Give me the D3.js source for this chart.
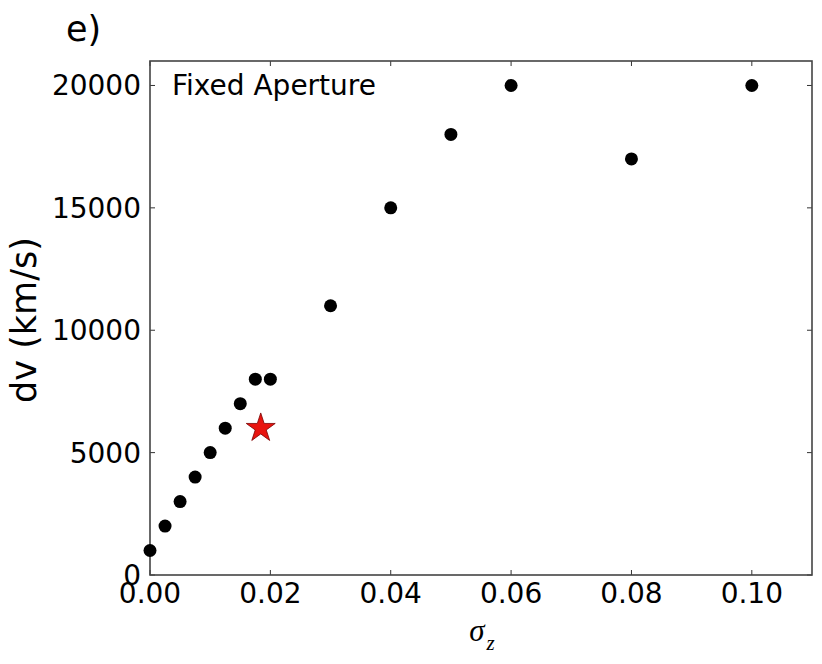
<!DOCTYPE html>
<html><head><meta charset="utf-8">
<script src="https://cdn.jsdelivr.net/npm/d3@7"></script>
<style>body{margin:0;background:#fff}</style>
</head><body>
<svg id="c" width="822" height="664"></svg>
<script>
const sigmaZ = [0, 0.0025, 0.005, 0.0075, 0.01, 0.0125, 0.015, 0.0175, 0.02, 0.03, 0.04, 0.05, 0.06, 0.08, 0.10];
const dv = [1000, 2000, 3000, 4000, 5000, 6000, 7000, 8000, 8000, 11000, 15000, 18000, 20000, 17000, 20000];
const starX = [0.0184];
const starY = [6000];
const xTicks = [0, 0.02, 0.04, 0.06, 0.08, 0.10];
const yTicks = [0, 5000, 10000, 15000, 20000];

const svg = d3.select("#c");
const L = 150, R = 812, T = 61, B = 575;
const x = d3.scaleLinear().domain([0, 0.11]).range([L, R]);
const y = d3.scaleLinear().domain([0, 21000]).range([B, T]);
const font = "DejaVu Sans, sans-serif";

// ticks (inward, all sides)
const tl = 5;
const g = svg.append("g");
xTicks.forEach(v => {
  g.append("line").attr("x1", x(v)).attr("x2", x(v)).attr("y1", B).attr("y2", B - tl).attr("stroke", "#333");
  g.append("line").attr("x1", x(v)).attr("x2", x(v)).attr("y1", T).attr("y2", T + tl).attr("stroke", "#333");
  svg.append("text").attr("x", x(v)).attr("y", B + 28).attr("text-anchor", "middle")
    .attr("font-family", font).attr("font-size", 28).text(d3.format(".2f")(v));
});
yTicks.forEach(v => {
  g.append("line").attr("y1", y(v)).attr("y2", y(v)).attr("x1", L).attr("x2", L + tl).attr("stroke", "#333");
  g.append("line").attr("y1", y(v)).attr("y2", y(v)).attr("x1", R).attr("x2", R - tl).attr("stroke", "#333");
  svg.append("text").attr("x", L - 9).attr("y", y(v) + 10).attr("text-anchor", "end")
    .attr("font-family", font).attr("font-size", 28).text(v);
});

// frame
svg.append("rect").attr("x", L).attr("y", T).attr("width", R - L).attr("height", B - T)
  .attr("fill", "none").attr("stroke", "#444").attr("stroke-width", 1.6);

// points
svg.append("g").selectAll("circle").data(sigmaZ.map((s, i) => [s, dv[i]])).join("circle")
  .attr("cx", d => x(d[0])).attr("cy", d => y(d[1])).attr("r", 6.5).attr("fill", "#000");

// star
const star = d3.symbol().type(d3.symbolStar).size(260);
svg.append("g").selectAll("path").data(starX.map((s, i) => [s, starY[i]])).join("path")
  .attr("d", star).attr("transform", d => `translate(${x(d[0])},${y(d[1])})`)
  .attr("fill", "#e8140f").attr("stroke", "#7a0000").attr("stroke-width", 0.8);

// labels
svg.append("text").attr("x", 172).attr("y", 95).attr("font-family", font).attr("font-size", 28).text("Fixed Aperture");
svg.append("text").attr("x", 66).attr("y", 41).attr("font-family", font).attr("font-size", 35).text("e)");
svg.append("text").attr("transform", "translate(36,320) rotate(-90)").attr("text-anchor", "middle")
  .attr("font-family", font).attr("font-size", 35).text("dv (km/s)");
const xl = svg.append("text").attr("x", 482).attr("y", 641).attr("text-anchor", "middle")
  .attr("font-family", "Liberation Serif, serif").attr("font-style", "italic").attr("font-size", 31);
xl.append("tspan").text("σ");
xl.append("tspan").attr("font-size", 21).attr("dx", 2).attr("dy", 9).text("z");
</script>
</body></html>
